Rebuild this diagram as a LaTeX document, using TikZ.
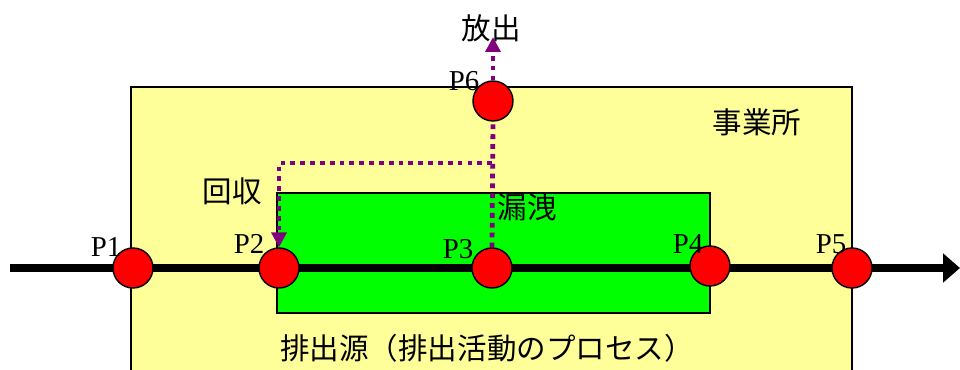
\documentclass[tikz,border=0pt]{standalone}
\usepackage{fontspec}
\setmainfont{Liberation Serif}
\newfontfamily\jpfont{Noto Sans CJK JP}
\usetikzlibrary{arrows.meta, positioning}
\definecolor{siteyellow}{HTML}{FFFF99}
\definecolor{sourcegreen}{HTML}{00FF00}
\definecolor{leakpurple}{HTML}{800080}
\pgfdeclarelayer{front}
\pgfsetlayers{main,front}

\begin{document}
\begin{tikzpicture}[
        x=0.025cm, y=-0.025cm,
        point/.style={
            circle,
            draw=black,
            line width=1pt,
            fill=red,
            minimum size=1cm,
            inner sep=0pt
        },
        plabel/.style={
            font=\fontsize{20.5}{24}\selectfont,
            inner sep=0pt
        },
        jplabel/.style={
            font=\jpfont\fontsize{21}{24}\selectfont,
            inner sep=0pt
        },
        site_box/.style={
            draw=black,
            line width=0.8pt,
            fill=siteyellow
        },
        source_box/.style={
            draw=black,
            line width=0.8pt,
            fill=sourcegreen
        },
        flow/.style={
            -{Triangle[length=0.42cm, width=0.7cm]},
            line width=5.7pt
        },
        leak/.style={
            draw=leakpurple,
            line width=3.4pt,
            dash pattern=on 3.4pt off 3.6pt
        },
        leak_arrow/.style={
            leak,
            -{Triangle[length=0.37cm, width=0.37cm]}
        }
    ]
    \useasboundingbox (0,0) rectangle (960,369);

    % Site and emission source
    \fill[site_box] (131,87) rectangle (852,380);
    \fill[source_box] (277,193) rectangle (710,313);
    \draw[site_box, fill=none] (131,380) -- (131,87) -- (852,87) -- (852,380);

    % Points
    \begin{pgfonlayer}{front}
    \node[point] (p1) at (133,268) {};
    \node[point] (p2) at (279,268) {};
    \node[point] (p3) at (492,268) {};
    \node[point] (p4) at (710,266) {};
    \node[point] (p5) at (852,268) {};
    \node[point] (p6) at (493,101) {};

    \node[plabel] (p1_lbl) at (106,247) {P1};
    \node[plabel] (p2_lbl) at (249,244) {P2};
    \node[plabel] (p3_lbl) at (458,249) {P3};
    \node[plabel] (p4_lbl) at (688,244) {P4};
    \node[plabel] (p5_lbl) at (831,244) {P5};
    \node[plabel] (p6_lbl) at (464,81) {P6};
    \end{pgfonlayer}

    % Labels
    \node[jplabel] (release) at (491,28) {放出};
    \node[jplabel] (site_lbl) at (757,122) {事業所};
    \node[jplabel] (recover) at (232,191) {回収};
    \node[jplabel] (leakage) at (527,207) {漏洩};
    \node[jplabel] (source_lbl) at (487,348) {排出源（排出活動のプロセス）};

    % Main flow
    \coordinate (flow_in) at (10,268);
    \coordinate (flow_out) at (960,268);
    \draw[flow] (flow_in) -- (flow_out);

    % Leak paths
    \coordinate (split) at (p3 |- 0,163);
    \draw[leak] (p3.north) -- (p6.south);
    \draw[leak_arrow, shorten >=-0.12cm] (p6.north) -- (p6.north |- release.south);
    \draw[leak_arrow] (split) -| (p2.north);

\end{tikzpicture}
\end{document}
